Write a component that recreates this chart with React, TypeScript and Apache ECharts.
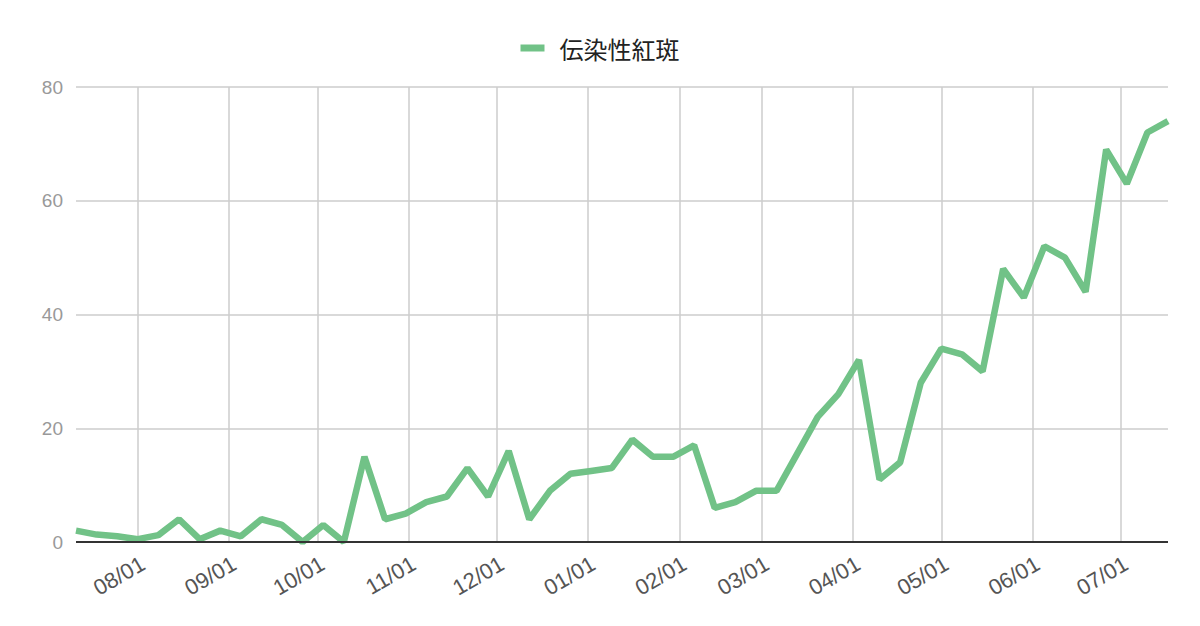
import React, { useEffect, useRef } from "react";
import * as echarts from "echarts";

const seriesName = "伝染性紅斑";

const dates = [
  "2024-07-11", "2024-07-18", "2024-07-25", "2024-08-01", "2024-08-08", "2024-08-15",
  "2024-08-22", "2024-08-29", "2024-09-05", "2024-09-12", "2024-09-19", "2024-09-26",
  "2024-10-03", "2024-10-10", "2024-10-17", "2024-10-24", "2024-10-31", "2024-11-07",
  "2024-11-14", "2024-11-21", "2024-11-28", "2024-12-05", "2024-12-12", "2024-12-19",
  "2024-12-26", "2025-01-02", "2025-01-09", "2025-01-16", "2025-01-23", "2025-01-30",
  "2025-02-06", "2025-02-13", "2025-02-20", "2025-02-27", "2025-03-06", "2025-03-13",
  "2025-03-20", "2025-03-27", "2025-04-03", "2025-04-10", "2025-04-17", "2025-04-24",
  "2025-05-01", "2025-05-08", "2025-05-15", "2025-05-22", "2025-05-29", "2025-06-05",
  "2025-06-12", "2025-06-19", "2025-06-26", "2025-07-03", "2025-07-10", "2025-07-17",
];

const values = [
  2, 1.3, 1, 0.5, 1.2, 4, 0.5, 2, 1, 4, 3, 0,
  3, 0, 15, 4, 5, 7, 8, 13, 8, 16, 4, 9,
  12, 12.5, 13, 18, 15, 15, 17, 6, 7, 9, 9, 15.5,
  22, 26, 32, 11, 14, 28, 34, 33, 30, 48, 43, 52,
  50, 44, 69, 63, 72, 74,
];

const yTicks = { min: 0, max: 80, interval: 20 };

export default function App() {
  const ref = useRef<HTMLDivElement>(null);

  useEffect(() => {
    if (!ref.current) return;
    const chart = echarts.init(ref.current, undefined, { renderer: "svg" });
    const data = dates.map((d, i) => [d, values[i]]);
    chart.setOption({
      animation: false,
      backgroundColor: "#ffffff",
      legend: {
        top: 31,
        left: "center",
        icon: "rect",
        itemWidth: 24,
        itemHeight: 7,
        textStyle: {
          fontSize: 24,
          color: "#222222",
          fontFamily: "'Noto Sans CJK JP', sans-serif",
          padding: [0, 0, 0, 10],
        },
        data: [seriesName],
      },
      grid: { left: 76, right: 32, top: 87, bottom: 84, containLabel: false },
      xAxis: {
        type: "time",
        min: "dataMin",
        max: "dataMax",
        minInterval: 28 * 24 * 3600 * 1000,
        maxInterval: 31 * 24 * 3600 * 1000,
        axisLine: { show: false },
        axisTick: { show: false },
        splitLine: {
          show: true,
          showMinLine: false,
          showMaxLine: false,
          lineStyle: { color: "#cccccc", width: 1.5 },
        },
        axisLabel: {
          formatter: "{MM}/{dd}",
          rotate: 30,
          fontSize: 22,
          color: "#555555",
          fontFamily: "'Liberation Sans', Arial, sans-serif",
          margin: 23,
          padding: [0, -6, 0, 0],
          hideOverlap: false,
        },
      },
      yAxis: {
        type: "value",
        min: yTicks.min,
        max: yTicks.max,
        interval: yTicks.interval,
        axisLine: { show: false },
        axisTick: { show: false },
        splitLine: { show: true, lineStyle: { color: "#cccccc", width: 1.5 } },
        axisLabel: {
          fontSize: 19,
          color: "#999999",
          fontFamily: "'Liberation Sans', Arial, sans-serif",
          margin: 13,
        },
      },
      series: [
        {
          name: seriesName,
          type: "line",
          data,
          showSymbol: false,
          symbol: "none",
          lineStyle: { color: "#71c287", width: 6.5 },
          itemStyle: { color: "#71c287" },
          markLine: {
            silent: true,
            symbol: "none",
            label: { show: false },
            lineStyle: { color: "#333333", width: 2, type: "solid" },
            data: [{ yAxis: 0 }],
          },
          z: 3,
        },
      ],
    });
    return () => chart.dispose();
  }, []);

  return (
    <div
      ref={ref}
      style={{ position: "absolute", left: 0, top: 0, width: 1200, height: 626 }}
    />
  );
}
